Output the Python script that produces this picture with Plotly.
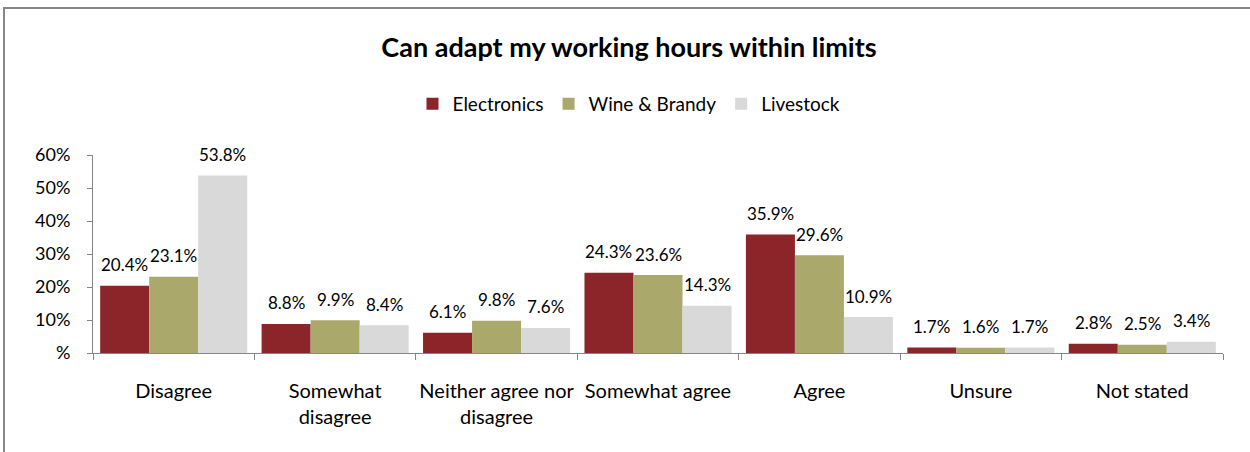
import plotly.graph_objects as go

categories = ["Disagree", "Somewhat<br>disagree", "Neither agree nor<br>disagree",
              "Somewhat agree", "Agree", "Unsure", "Not stated"]
series_names = ["Electronics", "Wine & Brandy", "Livestock"]
electronics = [20.4, 8.8, 6.1, 24.3, 35.9, 1.7, 2.8]
wine_brandy = [23.1, 9.9, 9.8, 23.6, 29.6, 1.6, 2.5]
livestock = [53.8, 8.4, 7.6, 14.3, 10.9, 1.7, 3.4]
y_tick_vals = [0, 10, 20, 30, 40, 50, 60]
y_tick_text = ["%", "10%", "20%", "30%", "40%", "50%", "60%"]

colors = ["#8B2529", "#ABA86C", "#D9D9D9"]
FONT = "Lato"
W, H = 1250, 452
ML, MR, MT, MB = 93, 27, 155, 99
BARGAP = 0.089

fig = go.Figure()
all_series = [electronics, wine_brandy, livestock]
for name, vals, col in zip(series_names, all_series, colors):
    fig.add_trace(go.Bar(x=categories, y=vals, name=name,
                         marker=dict(color=col, line=dict(width=0))))

# value labels above each bar
plot_w = W - ML - MR
bar_w = plot_w / len(categories) * (1 - BARGAP) / len(all_series)
for i, vals in enumerate(all_series):
    for cat, v in zip(categories, vals):
        fig.add_annotation(x=cat, y=v, text=f"{v:.1f}%", showarrow=False,
                           xshift=(i - 1) * bar_w, yshift=21, yanchor="middle",
                           font=dict(family=FONT, size=17, color="#000000"))

plot_h = H - MT - MB
# outer chart frame
fig.add_shape(type="rect", xref="paper", yref="paper",
              x0=(4 - ML) / plot_w, x1=(W + 5 - ML) / plot_w,
              y0=(H - MB - (H + 5)) / plot_h, y1=(H - MB - 8) / plot_h,
              line=dict(color="#878787", width=2), fillcolor="rgba(0,0,0,0)")

fig.update_layout(
    width=W, height=H, margin=dict(l=ML, r=MR, t=MT, b=MB, autoexpand=False),
    paper_bgcolor="white", plot_bgcolor="white",
    barmode="group", bargap=BARGAP, bargroupgap=0,
    font=dict(family=FONT, size=18, color="#000000"),
    title=dict(text="<b>Can adapt my working hours within limits</b>",
               x=(629 - ML) / plot_w, xref="paper", xanchor="center",
               y=1 - 48 / H, yanchor="middle", automargin=False,
               font=dict(family=FONT, size=27, color="#000000")),
    legend=dict(orientation="h", x=(629 - ML) / plot_w, xanchor="center",
                y=(H - MB - 104) / plot_h, yanchor="middle",
                font=dict(family=FONT, size=19), itemwidth=30,
                traceorder="normal"),
    showlegend=True,
)
fig.update_xaxes(showline=True, linecolor="#868686", linewidth=1,
                 ticks="outside", tickson="boundaries", ticklen=6,
                 tickcolor="#868686", showgrid=False, tickangle=0,
                 automargin=False,
                 tickfont=dict(family=FONT, size=20), ticklabelstandoff=20)
fig.update_yaxes(range=[0, 60], tickvals=y_tick_vals, ticktext=y_tick_text,
                 showline=True, linecolor="#868686", linewidth=1,
                 ticks="outside", ticklen=5, tickcolor="#868686",
                 showgrid=False, zeroline=False, automargin=False,
                 tickfont=dict(family=FONT, size=18), ticklabelstandoff=13)

fig.write_html("out.html")
